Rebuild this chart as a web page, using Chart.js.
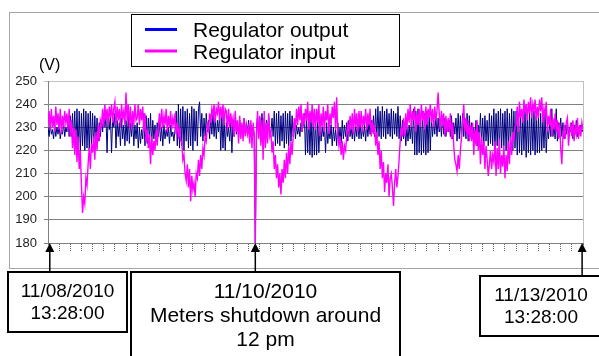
<!DOCTYPE html>
<html>
<head>
<meta charset="utf-8">
<script src="https://cdn.jsdelivr.net/npm/chart.js@4.4.1/dist/chart.umd.min.js"></script>
<style>
  html, body { margin: 0; padding: 0; background: #fff; }
  #wrap { width: 599px; height: 356px; }
</style>
</head>
<body>
<div id="wrap"><canvas id="chart" width="599" height="356"></canvas></div>
<script>
// samples every quarter hour, starting 11/08/2010 13:28:00
const HOUR_STEP = 0.25;

const seriesNames = ['Regulator output', 'Regulator input'];

const outputVolts = [
  230,226,232,227,229,225,231,226,230,227,231,225,229,227,232,226,230,228,233,226,
  235,226,236,224,237,221,238,220,237,219,236,222,238,220,237,221,236,220,237,222,
  236,221,235,223,234,224,232,226,233,228,236,230,234,219,236,229,235,219,234,230,
  236,221,233,226,232,222,234,225,231,222,233,224,235,223,232,226,234,222,231,225,
  232,221,230,223,229,225,236,222,235,223,234,224,236,222,233,225,231,224,232,226,
  232,224,230,222,231,225,229,226,230,223,231,226,228,224,229,237,222,240,221,238,
  222,239,220,237,224,238,221,236,222,239,220,238,224,237,222,238,241,226,236,224,
  234,226,236,228,233,225,235,227,236,226,234,225,233,228,236,220,235,221,234,220,
  232,226,230,224,232,219,233,226,234,227,232,226,233,228,231,226,234,227,232,228,
  233,227,231,228,230,226,180,229,235,226,234,227,236,225,234,226,233,228,235,227,
  228,234,226,237,222,236,223,237,222,235,224,236,221,237,223,236,222,237,224,235,
  226,232,225,231,227,230,226,232,228,231,236,218,235,219,236,218,235,217,236,218,
  233,218,235,219,232,224,230,226,231,219,232,223,229,225,231,222,230,224,229,222,
  232,224,230,223,233,225,231,226,232,224,233,226,230,225,232,224,231,226,233,225,
  232,225,230,226,231,224,233,226,232,227,233,228,235,226,238,225,239,226,237,225,
  239,226,237,225,238,227,236,226,238,225,237,227,236,226,239,225,235,224,233,225,
  232,222,230,224,231,225,232,223,238,218,237,218,238,219,236,218,237,219,236,218,
  237,219,236,220,234,226,233,227,235,226,234,228,233,226,235,227,234,226,232,228,
  233,226,235,225,232,227,234,224,236,225,235,224,236,226,234,225,236,224,235,226,
  232,225,230,224,233,222,231,225,236,223,234,222,235,224,233,222,236,223,235,222,
  238,220,236,222,237,220,238,221,236,222,237,220,238,221,236,222,238,220,237,221,
  237,218,236,219,237,218,236,220,237,217,236,219,237,218,236,220,237,218,235,219,
  235,219,236,220,234,221,236,219,230,225,232,226,238,226,231,225,238,224,232,226,
  234,226,232,225,231,227,233,226,230,228,232,225,231,227,233,226,230,227,231,228,
  229
];

const inputVolts = [
  231,237,229,238,230,235,228,239,231,236,229,238,227,235,230,237,232,236,229,238,
  226,233,221,230,218,229,215,226,212,220,205,193,200,197,208,205,214,221,212,223,
  219,226,216,228,220,231,224,233,231,238,230,240,233,238,231,239,234,240,232,238,
  241,231,239,233,238,230,240,234,237,231,245,233,240,230,239,229,237,231,240,233,
  234,240,231,238,233,239,228,236,224,229,221,227,214,226,218,224,220,229,222,230,
  236,229,238,230,235,231,238,228,235,230,237,229,234,231,236,227,232,225,230,224,
  224,216,218,210,207,214,204,212,198,209,203,206,200,210,208,216,209,218,212,221,
  218,226,224,231,229,236,232,238,235,240,232,238,236,241,233,239,234,240,231,238,
  237,229,238,230,236,231,234,226,237,228,233,223,235,225,232,224,234,226,231,227,
  230,223,233,221,232,227,180,226,237,225,235,222,233,216,237,221,232,223,236,226,
  228,219,224,212,218,208,214,204,210,201,212,206,216,208,219,210,222,214,224,218,
  226,234,229,238,231,239,233,240,228,236,231,238,233,241,229,237,232,240,230,238,
  229,238,232,240,226,236,230,239,228,237,233,240,227,236,231,239,234,241,229,243,
  227,222,226,218,224,216,222,220,226,231,228,235,229,236,227,238,230,236,228,237,
  230,237,228,235,231,238,229,236,231,238,226,233,227,231,222,228,218,224,212,220,
  208,215,202,210,206,214,200,208,210,204,196,206,212,204,209,216,224,230,226,234,
  226,236,229,238,232,240,230,237,233,239,228,236,231,238,230,240,233,237,229,239,
  231,238,234,240,232,238,230,239,233,237,245,236,229,237,231,236,226,235,228,234,
  228,236,225,232,222,216,214,211,218,212,220,226,232,240,228,234,226,233,224,231,
  224,232,218,229,222,233,220,228,214,226,218,224,212,222,216,209,214,220,212,218,
  215,224,209,221,212,225,210,218,213,222,208,218,211,224,214,226,218,228,224,230,
  231,239,228,241,234,238,232,242,236,240,233,241,236,243,234,240,237,242,233,239,
  234,242,237,243,232,238,235,241,228,235,231,238,226,234,229,236,228,233,225,232,
  221,214,226,230,225,232,234,222,228,232,226,233,224,230,227,234,225,231,226,232,
  229
];

const voltTicks = [180, 190, 200, 210, 220, 230, 240, 250];

// callouts: hour on the axis they point to, and their text
const calloutHours = [0.4, 46.5, 119.8];
const calloutTexts = [
  ['11/08/2010', '13:28:00'],
  ['11/10/2010', 'Meters shutdown around', '12 pm'],
  ['11/13/2010', '13:28:00']
];

const sampleHours = outputVolts.map((_, i) => i * HOUR_STEP);

const FONT = 'Arial, "Liberation Sans", sans-serif';
const lineColors = ['#000080', '#ff00ff'];
const legendColors = ['#0000ff', '#ff00ff'];

const decor = {
  id: 'decor',
  beforeDraw(chart) {
    const ctx = chart.ctx;
    ctx.save();
    ctx.fillStyle = '#fff';
    ctx.fillRect(0, 0, chart.width, chart.height);
    ctx.strokeStyle = '#a6a6a6';
    ctx.lineWidth = 1;
    ctx.strokeRect(9.5, 12.5, 600, 256);
    ctx.restore();
  },
  afterDraw(chart) {
    const ctx = chart.ctx;
    const area = chart.chartArea;
    const xs = chart.scales.x;
    ctx.save();

    // right edge of plot
    ctx.strokeStyle = '#c0c0c0';
    ctx.lineWidth = 1;
    ctx.beginPath();
    ctx.moveTo(Math.round(area.right) + 0.5, area.top);
    ctx.lineTo(Math.round(area.right) + 0.5, area.bottom);
    ctx.stroke();

    // legend
    ctx.strokeStyle = '#000';
    ctx.strokeRect(131.5, 14.5, 268, 52);
    ctx.font = '21px ' + FONT;
    ctx.textBaseline = 'alphabetic';
    ctx.textAlign = 'left';
    const rows = [29.5, 51];
    seriesNames.forEach((name, i) => {
      ctx.strokeStyle = legendColors[i];
      ctx.lineWidth = 3;
      ctx.beginPath();
      ctx.moveTo(145, rows[i]);
      ctx.lineTo(177, rows[i]);
      ctx.stroke();
      ctx.fillStyle = '#000';
      ctx.fillText(name, 193, rows[i] + 7.5);
    });

    // unit
    ctx.font = '16px ' + FONT;
    ctx.fillText('(V)', 39, 70);

    // callouts
    const boxes = [
      { x: 8, y: 272, w: 119, h: 60, size: 19, base: [297, 319] },
      { x: 131, y: 272, w: 269, h: 100, size: 21, base: [298, 322, 346] },
      { x: 480, y: 276, w: 130, h: 60, size: 19, base: [301, 323] }
    ];
    boxes.forEach((b, i) => {
      const ax = xs.getPixelForValue(calloutHours[i]);
      ctx.strokeStyle = '#000';
      ctx.fillStyle = '#000';
      ctx.lineWidth = 1.5;
      ctx.beginPath();
      ctx.moveTo(ax, b.y);
      ctx.lineTo(ax, area.bottom + 8);
      ctx.stroke();
      ctx.beginPath();
      ctx.moveTo(ax, area.bottom);
      ctx.lineTo(ax - 4.5, area.bottom + 9);
      ctx.lineTo(ax + 4.5, area.bottom + 9);
      ctx.closePath();
      ctx.fill();

      ctx.lineWidth = 2;
      ctx.strokeRect(b.x, b.y, b.w, b.h);
      ctx.font = b.size + 'px ' + FONT;
      ctx.textAlign = 'center';
      const cx = b.x + Math.min(b.w, 599 - b.x) / 2;
      calloutTexts[i].forEach((t, k) => ctx.fillText(t, i === 2 ? 541 : cx, b.base[k]));
    });
    ctx.restore();
  }
};

new Chart(document.getElementById('chart'), {
  type: 'line',
  data: {
    datasets: [
      {
        label: seriesNames[1],
        data: inputVolts.map((v, i) => ({ x: sampleHours[i], y: v })),
        borderColor: lineColors[1],
        borderWidth: 1.4,
        pointRadius: 0,
        tension: 0
      },
      {
        label: seriesNames[0],
        data: outputVolts.map((v, i) => ({ x: sampleHours[i], y: v })),
        borderColor: lineColors[0],
        borderWidth: 1,
        pointRadius: 0,
        tension: 0
      }
    ]
  },
  options: {
    responsive: false,
    animation: false,
    devicePixelRatio: 1,
    layout: { padding: { left: 0, top: 81, right: 16, bottom: 0 } },
    plugins: {
      legend: { display: false },
      tooltip: { enabled: false }
    },
    scales: {
      x: {
        type: 'linear',
        min: 0,
        max: 120,
        afterFit: (s) => { s.height = 113; },
        ticks: { display: false, stepSize: 2.5 },
        grid: {
          drawOnChartArea: false,
          tickLength: 8,
          tickColor: '#666',
          tickBorderDash: [1, 1]
        },
        border: { color: '#808080' }
      },
      y: {
        min: 180,
        max: 250,
        afterFit: (s) => { s.width = 48; },
        afterBuildTicks: (s) => { s.ticks = voltTicks.map(v => ({ value: v })); },
        ticks: {
          padding: 7,
          color: '#222',
          font: { family: FONT, size: 13 }
        },
        grid: {
          tickLength: 4,
          color: (c) => (c.tick && c.tick.value === 250 ? '#c0c0c0' : '#808080')
        },
        border: { color: '#808080' }
      }
    }
  },
  plugins: [decor]
});
</script>
</body>
</html>
